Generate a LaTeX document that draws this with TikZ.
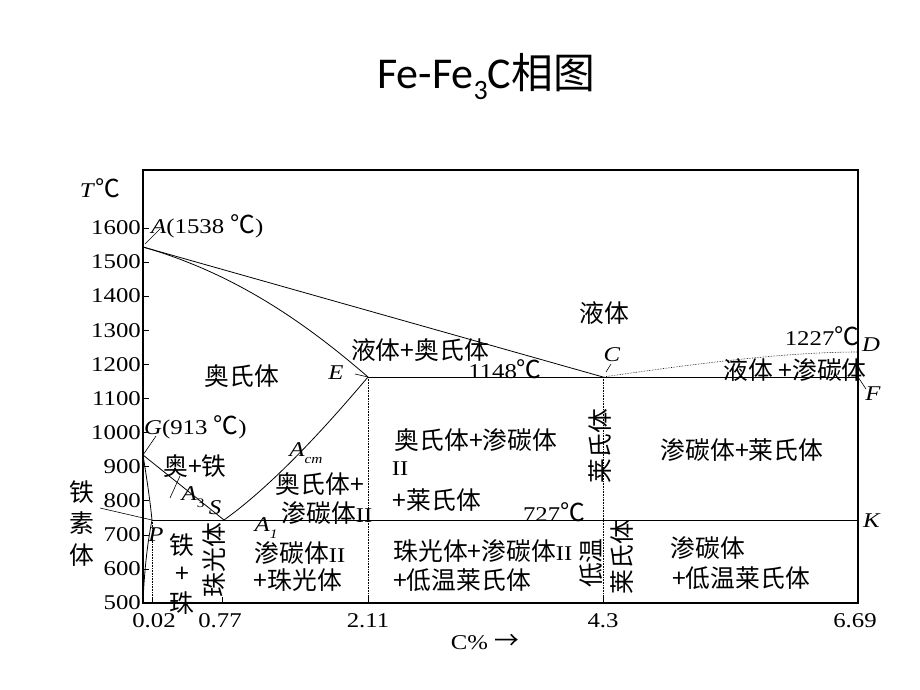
\documentclass[tikz,border=0pt]{standalone}
\usepackage{fontspec}
\setmainfont{Liberation Serif}[FakeStretch=1.18]
\newfontfamily\cjk{Noto Sans CJK SC}[Scale=1.18]
\newfontfamily\titlefont{Carlito}
\newfontfamily\titlecjk{Noto Sans CJK SC}[Scale=0.95]
\begin{document}
\begin{tikzpicture}[x=1pt,y=-1pt,
  lab/.style={font=\fontsize{21}{23}\selectfont, inner sep=0pt},
  vlab/.style={lab, rotate=90},
  phase/.style={line width=0.8pt},
  guide/.style={densely dotted, line width=0.6pt},
  leader/.style={line width=0.6pt},
  frame/.style={line width=1.3pt}]
\useasboundingbox (0,0) rectangle (920,690);
% title
\node[inner sep=0pt] (title) at (486,77) {\titlefont\fontsize{44}{48}\selectfont Fe-Fe\raisebox{-0.25em}{\fontsize{28}{30}\selectfont 3}C\titlecjk 相图};
% frame
\draw[frame] (143,170) rectangle (858,603);
% y ticks and labels
\foreach \t in {500,600,...,1600}{
  \pgfmathsetmacro{\yy}{603-(\t-500)*0.341}
  \draw[leader] (143,\yy) -- (149,\yy);
  \node[lab, anchor=east] (y\t) at (141,\yy) {\t};
}
\node[lab] (Tlab) at (100,188) {\textit{T}{\cjk ℃}};
% x ticks
\foreach \xx in {152,222,368,603}{ \draw[leader] (\xx,603) -- (\xx,597); }
\node[lab] (x002) at (154,621) {0.02};
\node[lab] (x077) at (220,621) {0.77};
\node[lab] (x211) at (368,621) {2.11};
\node[lab] (x43) at (603,621) {4.3};
\node[lab] (x669) at (855,621) {6.69};
\node[lab] (xlab) at (485,642) {C\% {\cjk →}};
% key points
\coordinate (A) at (143,247);
\coordinate (E) at (368,377);
\coordinate (C) at (603,377);
\coordinate (D) at (858,352);
\coordinate (F) at (858,377);
\coordinate (G) at (143,455);
\coordinate (S) at (224,520);
\coordinate (P) at (152,520);
\coordinate (K) at (858,520);
\coordinate (Q) at (143,603);
\coordinate (Eb) at (368,603);
\coordinate (Cb) at (603,603);
\coordinate (Pb) at (152,603);
% phase lines
\draw[phase] (A) -- (C);
\draw[phase] (A) .. controls (230,272) and (300,318) .. (E);
\draw[phase] (E) .. controls (340,410) and (280,480) .. (S);
\draw[phase] (G) -- (S);
\draw[phase] (G) .. controls (147,480) and (150,500) .. (P);
\draw[phase] (P) .. controls (147,545) and (144,575) .. (Q);
\draw[phase] (E) -- (F);
\draw[phase] (P) -- (K);
\draw[guide] (C) .. controls (680,366) and (780,352) .. (D);
\draw[guide] (P) -- (Pb);
\draw[guide] (E) -- (Eb);
\draw[guide] (C) -- (Cb);
% point labels and leaders
\node[lab, anchor=west] (Alab) at (151,226) {\textit{A}(1538 {\cjk ℃})};
\draw[leader] (145,244) -- (160,229);
\node[lab, anchor=west] (Glab) at (144,427) {\textit{G}(913 {\cjk ℃})};
\draw[leader] (G) -- (156,436);
\node[lab] (Elab) at (336,373) {\textit{E}};
\draw[leader] (355,374) -- (E);
\node[lab] (Clab) at (612,355) {\textit{C}};
\draw[leader] (606,372) -- (611,364);
\node[lab] (Dlab) at (871,345) {\textit{D}};
\node[lab] (Flab) at (873,394) {\textit{F}};
\draw[leader] (F) -- (866,389);
\node[lab] (Klab) at (872,521) {\textit{K}};
\node[lab] (Slab) at (215,508) {\textit{S}};
\node[lab] (Plab) at (156,535) {\textit{P}};
\node[lab] (A3lab) at (193,497) {\textit{A}\raisebox{-0.3em}{\fontsize{13}{14}\selectfont 3}};
\draw[leader] (170,498) -- (180,476);
\node[lab] (Acmlab) at (306,453) {\textit{A}\raisebox{-0.3em}{\fontsize{13}{14}\selectfont\textit{cm}}};
\node[lab] (A1lab) at (266,528) {\textit{A}\raisebox{-0.3em}{\fontsize{13}{14}\selectfont\textit{1}}};
% temperatures
\node[lab] (t1148) at (505,369) {1148{\cjk ℃}};
\node[lab] (t1227) at (822,336) {1227{\cjk ℃}};
\node[lab] (t727) at (554,512) {727{\cjk ℃}};
% region labels
\node[lab] (liq) at (604,313) {\cjk 液体};
\node[lab] (liqaus) at (420,350) {\cjk 液体+奥氏体};
\node[lab] (aus) at (242,376) {\cjk 奥氏体};
\node[lab] (liqcem) at (795,370) {\cjk 液体 +渗碳体};
\node[lab] (auscem1) at (476,440) {\cjk 奥氏体+渗碳体};
\node[lab] (auscem2) at (400,469) {II};
\node[lab] (auscem3) at (437,500) {\cjk +莱氏体};
\node[vlab] (led1) at (600,446) {\cjk 莱氏体};
\node[lab] (cemled) at (742,450) {\cjk 渗碳体+莱氏体};
\node[lab] (ausfer) at (195,466) {\cjk 奥+铁};
\node[lab] (auscemII1) at (320,484) {\cjk 奥氏体+};
\node[lab] (auscemII2) at (327,513) {{\cjk 渗碳体}II};
\node[lab] (fer1) at (82,492) {\cjk 铁};
\node[lab] (fer2) at (82,523) {\cjk 素};
\node[lab] (fer3) at (82,555) {\cjk 体};
\draw[leader] (100,508) -- (P);
\node[lab] (fp1) at (182,545) {\cjk 铁};
\node[lab] (fp2) at (182,575) {\cjk +};
\node[lab] (fp3) at (182,603) {\cjk 珠};
\node[vlab] (pearl) at (214,560) {\cjk 珠光体};
\node[lab] (cemp1) at (300,553) {{\cjk 渗碳体}II};
\node[lab] (cemp2) at (298,580) {\cjk +珠光体};
\node[lab] (pcl1) at (483,551) {{\cjk 珠光体+渗碳体}II};
\node[lab] (pcl2) at (462,580) {\cjk +低温莱氏体};
\node[vlab] (lowT) at (591,563) {\cjk 低温};
\node[vlab] (led2) at (622,557) {\cjk 莱氏体};
\node[lab] (cl1) at (708,548) {\cjk 渗碳体};
\node[lab] (cl2) at (741,578) {\cjk +低温莱氏体};
\end{tikzpicture}
\end{document}
